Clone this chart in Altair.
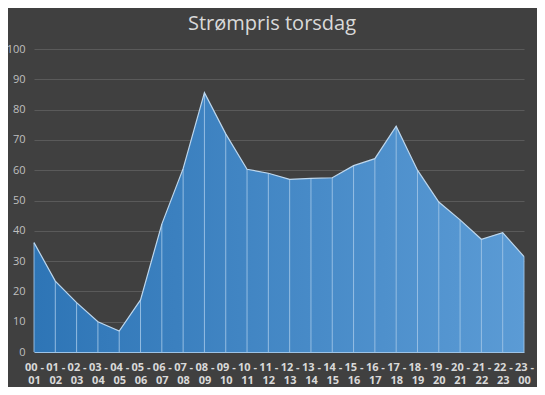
import altair as alt
import pandas as pd

hours = ["00 - 01", "01 - 02", "02 - 03", "03 - 04", "04 - 05", "05 - 06",
         "06 - 07", "07 - 08", "08 - 09", "09 - 10", "10 - 11", "11 - 12",
         "12 - 13", "13 - 14", "14 - 15", "15 - 16", "16 - 17", "17 - 18",
         "18 - 19", "19 - 20", "20 - 21", "21 - 22", "22 - 23", "23 - 00"]
prices = [36.1, 23.4, 16.3, 10.0, 6.9, 17.2, 42.2, 60.5, 85.6, 72.0, 60.3, 59.0,
          57.0, 57.3, 57.5, 61.5, 63.8, 74.5, 60.0, 49.5, 43.6, 37.2, 39.4, 31.5]
y_ticks = [0, 10, 20, 30, 40, 50, 60, 70, 80, 90, 100]

df = pd.DataFrame({"time": hours, "pris": prices})

x_scale = alt.Scale(type="point", padding=0)
y_scale = alt.Scale(domain=[0, 100], nice=False)

x_axis = alt.Axis(
    labelAngle=0, labelExpr="[slice(datum.label, 0, 4), slice(datum.label, 5)]",
    labelColor="#d9d9d9", labelFontSize=11, labelFontWeight="bold",
    labelFont="Open Sans", labelPadding=9, labelLineHeight=13,
    ticks=False, domain=True, domainColor="#9dc3e6", grid=False,
    labelOverlap=False,
)
y_axis = alt.Axis(
    values=y_ticks, labelColor="#bfbfbf", labelFontSize=11, labelFont="Open Sans",
    labelPadding=9, ticks=False, domain=False, gridColor="#5a5a5a",
    gridWidth=1, labelOverlap=False,
)

x_enc = alt.X("time:N", sort=hours, title=None, scale=x_scale, axis=x_axis)
y_enc = alt.Y("pris:Q", title=None, scale=y_scale, axis=y_axis)

area = alt.Chart(df).mark_area(
    color=alt.Gradient(
        gradient="linear",
        stops=[alt.GradientStop(color="#2e75b6", offset=0),
               alt.GradientStop(color="#5b9bd5", offset=1)],
        x1=0, x2=1, y1=0, y2=0,
    ),
    opacity=1,
).encode(x=x_enc, y=y_enc)

rules = alt.Chart(df).mark_rule(color="#9dc3e6", strokeWidth=1, opacity=0.9).encode(
    x=x_enc, y=y_enc, y2=alt.datum(0),
)

line = alt.Chart(df).mark_line(color="#bdd7ee", strokeWidth=1.2).encode(
    x=x_enc, y=y_enc,
)

chart = (area + rules + line).properties(
    width=490, height=303,
    background="#404040",
    padding={"left": 26, "top": 41, "right": 13, "bottom": 35},
    autosize=alt.AutoSizeParams(type="none"),
    title=alt.TitleParams(
        "Strømpris torsdag", color="#d9d9d9", fontSize=20, font="Open Sans",
        fontWeight="normal", anchor="middle", dx=-7, offset=9,
    ),
).configure_view(stroke=None)

chart.save("out.html", embed_options={"renderer": "svg", "actions": False})
